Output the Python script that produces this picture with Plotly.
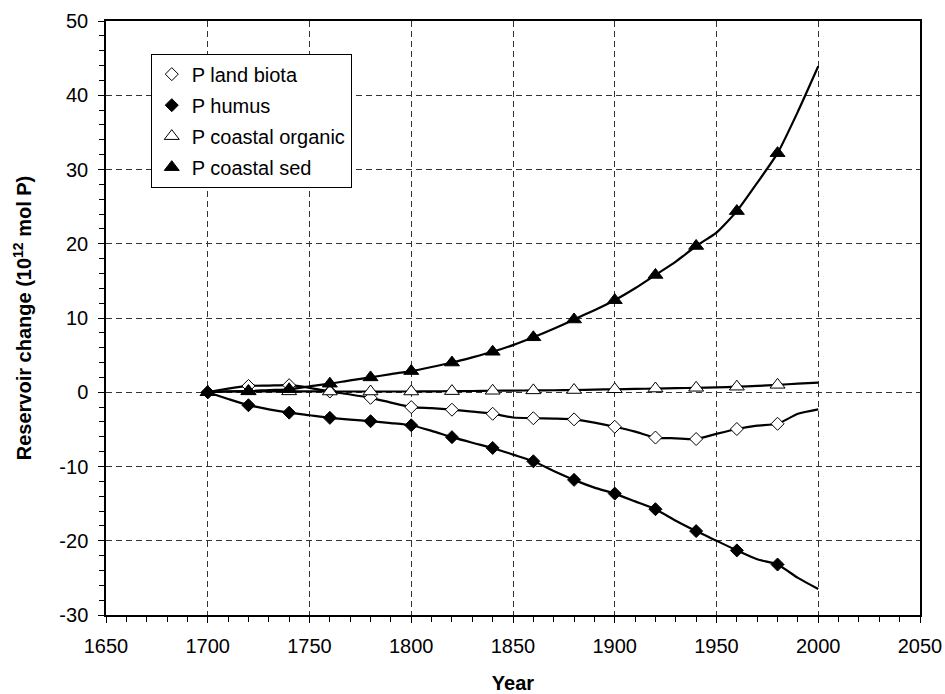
import plotly.graph_objects as go

# ---- data ----
years = [1700, 1710, 1720, 1730, 1740, 1750, 1760, 1770, 1780, 1790,
         1800, 1810, 1820, 1830, 1840, 1850, 1860, 1870, 1880, 1890,
         1900, 1910, 1920, 1930, 1940, 1950, 1960, 1970, 1980, 1990, 2000]

land_biota = [0, 0.5, 0.85, 0.9, 0.95, 0.6, 0.1, -0.3, -0.75, -1.4,
              -2.0, -2.15, -2.35, -2.6, -2.9, -3.4, -3.5, -3.55, -3.65, -4.1,
              -4.65, -5.3, -6.1, -6.2, -6.3, -5.6, -4.95, -4.5, -4.25, -2.9, -2.3]

humus = [0, -0.9, -1.75, -2.3, -2.75, -3.1, -3.45, -3.7, -3.9, -4.15,
         -4.45, -5.2, -6.05, -6.8, -7.5, -8.4, -9.3, -10.6, -11.8, -12.85,
         -13.65, -14.7, -15.75, -17.3, -18.7, -20.0, -21.3, -22.5, -23.2, -25.0, -26.5]

coastal_organic = [0, 0.1, 0.12, 0.12, 0.12, 0.12, 0.1, 0.1, 0.1, 0.1,
                   0.1, 0.12, 0.15, 0.17, 0.2, 0.22, 0.25, 0.27, 0.3, 0.35,
                   0.4, 0.45, 0.5, 0.55, 0.6, 0.65, 0.75, 0.85, 1.0, 1.15, 1.3]

coastal_sed = [0, 0.12, 0.15, 0.3, 0.4, 0.8, 1.15, 1.6, 2.0, 2.45,
               2.85, 3.4, 4.0, 4.7, 5.45, 6.35, 7.4, 8.55, 9.8, 11.05,
               12.4, 14.0, 15.8, 17.6, 19.7, 21.5, 24.4, 28.2, 32.2, 37.8, 43.9]

series_names = ["P land biota", "P humus", "P coastal organic", "P coastal sed"]

x_ticks = [1650, 1700, 1750, 1800, 1850, 1900, 1950, 2000, 2050]
y_ticks = [-30, -20, -10, 0, 10, 20, 30, 40, 50]

# ---- styles ----
styles = [
    dict(symbol="diamond", fill="white", size=10),
    dict(symbol="diamond", fill="black", size=10),
    dict(symbol="triangle-up", fill="white", size=13),
    dict(symbol="triangle-up", fill="black", size=13),
]
all_series = [land_biota, humus, coastal_organic, coastal_sed]

FONT = "Liberation Sans, Arial, Helvetica, sans-serif"

fig = go.Figure()
for i, (name, vals, st) in enumerate(zip(series_names, all_series, styles)):
    fig.add_trace(go.Scatter(
        x=years, y=vals, mode="lines",
        line=dict(color="black", width=2.2, shape="spline", smoothing=0.6),
        showlegend=False, hoverinfo="skip",
    ))
    # markers every 20 years, 1700..1980
    mx = years[0:-1:2]
    my = vals[0:-1:2]
    fig.add_trace(go.Scatter(
        x=mx, y=my, mode="markers", name=name,
        legendgroup=f"g{i}",
        marker=dict(symbol=st["symbol"], size=st["size"], color=st["fill"],
                    line=dict(color="black", width=1)),
    ))

axis_common = dict(
    showline=True, linecolor="black", linewidth=1.5, mirror=True,
    ticks="outside", ticklen=6, tickwidth=1, tickcolor="black",
    showgrid=True, gridcolor="#333333", gridwidth=1, griddash="6px,4px",
    zeroline=False, automargin=False,
    tickfont=dict(family=FONT, size=20, color="black"),
)

fig.update_layout(
    width=945, height=694,
    margin=dict(l=106, r=25, t=21, b=79),
    paper_bgcolor="white", plot_bgcolor="white",
    font=dict(family=FONT, color="black"),
    xaxis=dict(
        range=[1650, 2050], tickvals=x_ticks, ticktext=[str(v) for v in x_ticks],
        minor=dict(dtick=10, ticks="outside", ticklen=5, tickcolor="black", showgrid=False),
        title=dict(text="<b>Year</b>", font=dict(family=FONT, size=20), standoff=24),
        ticklabelstandoff=6,
        **axis_common,
    ),
    yaxis=dict(
        range=[-30, 50], tickvals=y_ticks, ticktext=[str(v) for v in y_ticks],
        minor=dict(dtick=2, ticks="outside", ticklen=5, tickcolor="black", showgrid=False),
        title=dict(text="<b>Reservoir change (10<sup>12</sup> mol P)</b>",
                   font=dict(family=FONT, size=20), standoff=22),
        ticklabelstandoff=6,
        **axis_common,
    ),
    legend=dict(
        x=0.055, y=0.945, xanchor="left", yanchor="top",
        bgcolor="white", bordercolor="black", borderwidth=1,
        font=dict(family=FONT, size=20, color="black"),
        traceorder="grouped", tracegroupgap=2,
        itemwidth=30,
    ),
    showlegend=True,
)

fig.write_html("out.html",
               config={"displayModeBar": False},
               post_script="document.body.style.margin='0px';document.body.style.overflow='hidden';")
